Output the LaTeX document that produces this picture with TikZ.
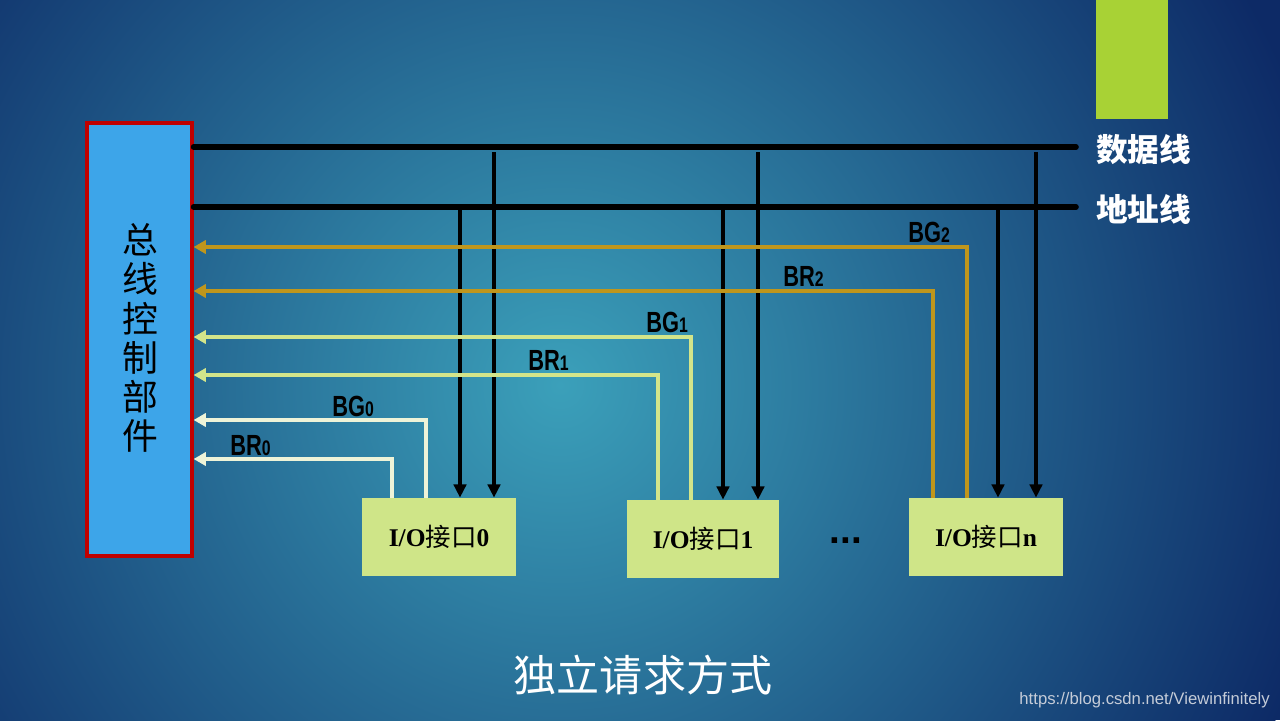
\documentclass[tikz,border=0pt]{standalone}
\usepackage{fontspec}
\setmainfont{Liberation Serif}
\newfontfamily\cjk{Noto Sans CJK SC}
\newfontfamily\lsans{Liberation Sans}
\usetikzlibrary{arrows.meta}
\definecolor{bgout}{HTML}{0D2A66}
\definecolor{bgin}{HTML}{3BA0BA}
\definecolor{ctrlfill}{HTML}{3DA5E9}
\definecolor{ctrlred}{HTML}{C00000}
\definecolor{iofill}{HTML}{CFE588}
\definecolor{topgreen}{HTML}{A8D235}
\definecolor{gold}{HTML}{BF961C}
\definecolor{pale}{HTML}{D3E58A}
\definecolor{cream}{HTML}{EEF3D8}
\definecolor{urlgray}{HTML}{C5CCD8}
\newcommand{\sigsub}[1]{{\fontsize{12}{14}\selectfont #1}}
\begin{document}
\begin{tikzpicture}[x=0.02cm,y=-0.02cm,
  bus/.style={line width=3.2pt,line cap=round,black},
  bar/.style={line width=2.6pt,black,-{Triangle[length=7.5pt,width=7pt]}},
  sig/.style={line width=2.1pt,-{Triangle[length=7pt,width=7.5pt]}},
  iobox/.style={fill=iofill,minimum height=1.56cm,inner sep=0pt,
    font=\fontsize{14.5}{17}\selectfont},
  lab/.style={inner sep=0pt,anchor=base west,
    font=\lsans\bfseries\fontsize{16.6}{18}\selectfont},
  buslab/.style={text=white,inner sep=0pt,anchor=west,
    font=\cjk\bfseries\fontsize{18}{20}\selectfont}]
\useasboundingbox (0,0) rectangle (1280,720);
\begin{scope}
\clip (0,0) rectangle (1280,720);
\fill[bgout] (0,0) rectangle (1280,720);
\shade[inner color=bgin,outer color=bgout] (560,385) circle (790);
\end{scope}
\fill[topgreen] (1096,0) rectangle (1168,119);

% control unit
\node[draw=ctrlred,line width=1.8pt,fill=ctrlfill,minimum width=2.1cm,
  minimum height=8.66cm,inner sep=0pt] (ctrl) at (139.5,339.5) {};
\node[align=center,inner sep=0pt,font=\cjk\fontsize{20.4}{22.3}\selectfont]
  (ctrltext) at (140,338) {总\\线\\控\\制\\部\\件};

% I/O interfaces
\node[iobox,minimum width=3.08cm] (io0) at (439,537)
  {\textbf{I/O}{\cjk 接口}\textbf{0}};
\node[iobox,minimum width=3.04cm] (io1) at (703,539)
  {\textbf{I/O}{\cjk 接口}\textbf{1}};
\node[iobox,minimum width=3.08cm] (ion) at (986,537)
  {\textbf{I/O}{\cjk 接口}\textbf{n}};
\node[inner sep=0pt,anchor=base,font=\lsans\bfseries\fontsize{22}{24}\selectfont]
  (dots) at (846,543) {...};

% buses
\coordinate (dR) at (1076,147);
\coordinate (aR) at (1076,207);
\draw[bus] (ctrl.east |- dR) -- (dR);
\draw[bus] (ctrl.east |- aR) -- (aR);
\node[buslab] (dlab) at (1096,149) {数据线};
\node[buslab] (alab) at (1096,209) {地址线};

% bus taps
\coordinate (a0) at (460,207);
\coordinate (d0) at (494,152);
\coordinate (a1) at (723,207);
\coordinate (d1) at (758,152);
\coordinate (an) at (998,207);
\coordinate (dn) at (1036,152);
\draw[bar] (a0) -- (a0 |- io0.north);
\draw[bar] (d0) -- (d0 |- io0.north);
\draw[bar] (a1) -- (a1 |- io1.north);
\draw[bar] (d1) -- (d1 |- io1.north);
\draw[bar] (an) -- (an |- ion.north);
\draw[bar] (dn) -- (dn |- ion.north);

% request / grant lines
\coordinate (bg2) at (967,247);
\coordinate (br2) at (933,291);
\coordinate (bg1) at (691,337);
\coordinate (br1) at (658,375);
\coordinate (bg0) at (426,420);
\coordinate (br0) at (392,459);
\draw[sig,gold] (bg2 |- ion.north) -- (bg2) -- (ctrl.east |- bg2);
\draw[sig,gold] (br2 |- ion.north) -- (br2) -- (ctrl.east |- br2);
\draw[sig,pale] (bg1 |- io1.north) -- (bg1) -- (ctrl.east |- bg1);
\draw[sig,pale] (br1 |- io1.north) -- (br1) -- (ctrl.east |- br1);
\draw[sig,cream] (bg0 |- io0.north) -- (bg0) -- (ctrl.east |- bg0);
\draw[sig,cream] (br0 |- io0.north) -- (br0) -- (ctrl.east |- br0);

\node[lab] (lbg2) at (908,242) {\scalebox{0.75}[1]{BG\sigsub{2}}};
\node[lab] (lbr2) at (783,286) {\scalebox{0.75}[1]{BR\sigsub{2}}};
\node[lab] (lbg1) at (646,332) {\scalebox{0.75}[1]{BG\sigsub{1}}};
\node[lab] (lbr1) at (528,370) {\scalebox{0.75}[1]{BR\sigsub{1}}};
\node[lab] (lbg0) at (332,416) {\scalebox{0.75}[1]{BG\sigsub{0}}};
\node[lab] (lbr0) at (230,455) {\scalebox{0.75}[1]{BR\sigsub{0}}};

% title and url
\node[text=white,inner sep=0pt,font=\cjk\fontsize{24.5}{27}\selectfont]
  (title) at (643,675) {独立请求方式};
\node[text=urlgray,inner sep=0pt,anchor=east,font=\lsans\fontsize{9.5}{11}\selectfont]
  (url) at (1270,700) {https://blog.csdn.net/Viewinfinitely};
\end{tikzpicture}
\end{document}
